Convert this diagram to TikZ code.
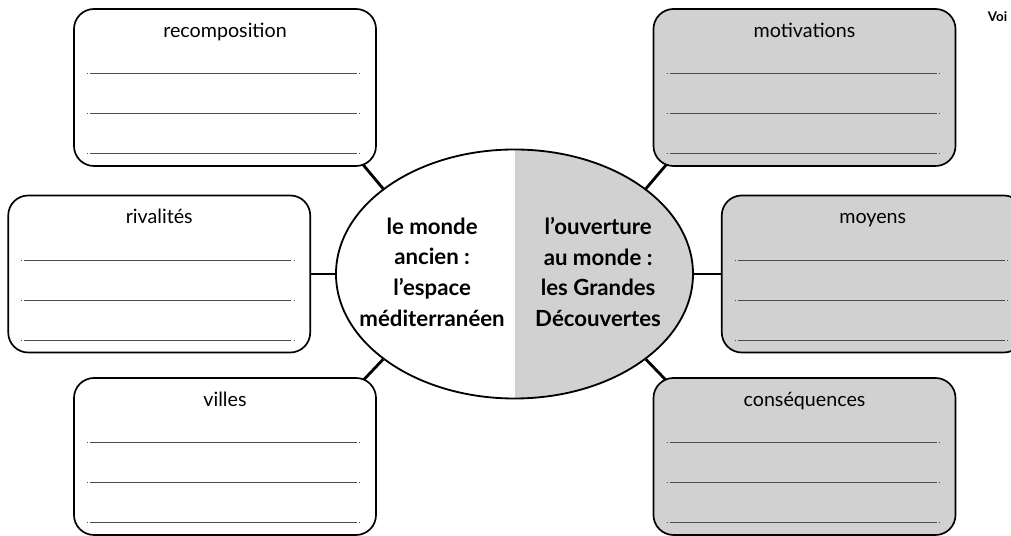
\documentclass[tikz,border=0pt]{standalone}
\usepackage{fontspec}
\setmainfont{Lato}
\usetikzlibrary{positioning, shapes.geometric, backgrounds}
\definecolor{fondgris}{gray}{0.82}

\begin{document}
\begin{tikzpicture}[
		x=0.25mm, y=0.25mm,
		case/.style={rectangle, draw, rounded corners=5mm, line width=1.2pt, fill=white, minimum width=75.5mm, minimum height=39.25mm, inner sep=0pt},
		casegris/.style={case, fill=fondgris},
		titre/.style={anchor=base, inner sep=0pt, font=\fontsize{14}{16}\selectfont},
		centre/.style={align=center, inner sep=0pt, font=\fontsize{15.8}{21.8}\selectfont\bfseries},
		ligne/.style={line width=0.6pt, black!70, dash pattern=on 0.5pt off 1.6pt on 190pt off 1.6pt on 0.5pt off 20pt},
		lien/.style={line width=2pt},
		note/.style={anchor=base east, inner sep=0pt, font=\fontsize{9.5}{11}\selectfont\bfseries}
	]

	\useasboundingbox (-514.5,274) rectangle (496.5,-262);

	\node[ellipse, draw, line width=1.3pt, fill=white, inner sep=0pt, minimum width=89.25mm, minimum height=62.25mm,
		path picture={\fill[fondgris] (path picture bounding box.north) rectangle (path picture bounding box.south east);}] (ell) at (0,0) {};
	\node[centre] (ancien) at ([xshift=-20.6mm, yshift=0.5mm]ell.center) {le monde\\ancien :\\l’espace\\méditerranéen};
	\node[centre] (ouvert) at ([xshift=20.9mm, yshift=0.5mm]ell.center) {l’ouverture\\au monde :\\les Grandes\\Découvertes};

	\node[case, left=6mm of ell] (rival) {};
	\node[casegris, right=6.75mm of ell] (moyens) {};
	\node[case] (recomp) at (-289.5,186.5) {};
	\node[casegris] (motiv) at (290,186.5) {};
	\node[case] (villes) at (-289.5,-182.5) {};
	\node[casegris] (conseq) at (290,-182.5) {};

	\node[note] (voir) at (493,252) {Voi};

	\foreach \b/\t in {recomp/recomposition, motiv/motivations, rival/rivalités, moyens/moyens, villes/villes, conseq/conséquences} {
		\node[titre] (t-\b) at ([yshift=-7.25mm]\b.north) {\t};
		\foreach \k in {3.25, 13.25, 23.25}
			\draw[ligne] ([xshift=3.5mm, yshift=\k mm]\b.south west) -- ([xshift=-3.5mm, yshift=\k mm]\b.south east);
	}

	\begin{scope}[on background layer]
		\fill[white] (-514.5,274) rectangle (496.5,-262);
		\foreach \i/\j in {rival/ell, ell/moyens}
			\draw[lien] (\i) -- (\j);
		\draw[lien] (ell.147) -- ([shift={(-22,12)}]recomp.south east);
		\draw[lien] (ell.33) -- ([shift={(22,12)}]motiv.south west);
		\draw[lien] (ell.-147) -- ([shift={(-22,-12)}]villes.north east);
		\draw[lien] (ell.-33) -- ([shift={(22,-12)}]conseq.north west);
	\end{scope}

\end{tikzpicture}
\end{document}
